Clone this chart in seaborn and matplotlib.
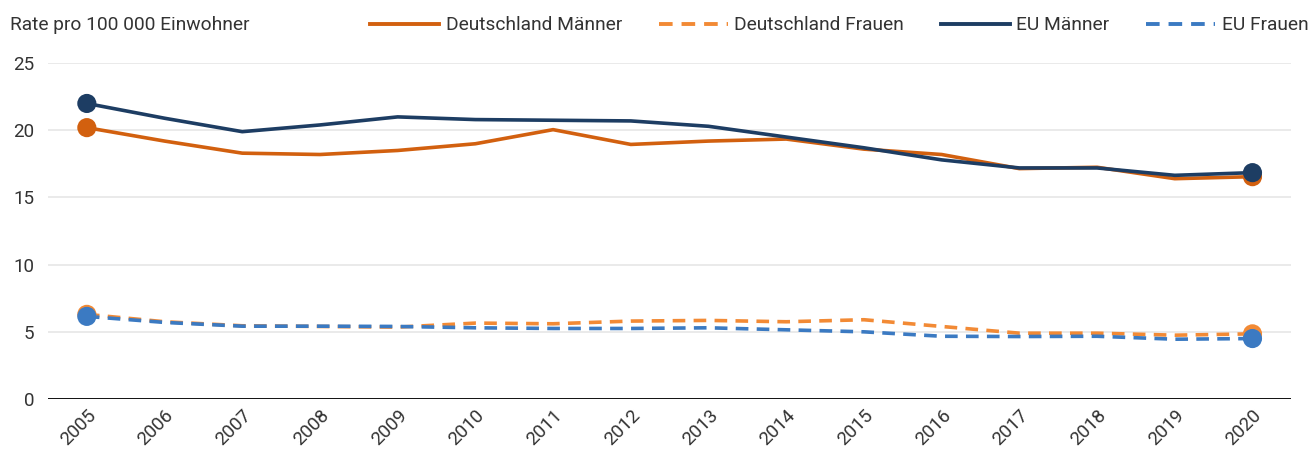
import pandas as pd
import seaborn as sns
import matplotlib.pyplot as plt
from matplotlib.lines import Line2D

years = [str(y) for y in range(2005, 2021)]

de_maenner = [20.2, 19.2, 18.3, 18.2, 18.5, 19.0, 20.05, 18.95, 19.2, 19.35, 18.6, 18.2, 17.15, 17.25, 16.4, 16.55]
de_frauen = [6.3, 5.75, 5.45, 5.4, 5.35, 5.65, 5.6, 5.8, 5.85, 5.75, 5.9, 5.4, 4.9, 4.9, 4.75, 4.85]
eu_maenner = [22.0, 20.9, 19.9, 20.4, 21.0, 20.8, 20.75, 20.7, 20.3, 19.5, 18.7, 17.8, 17.2, 17.2, 16.65, 16.85]
eu_frauen = [6.15, 5.7, 5.42, 5.42, 5.4, 5.3, 5.25, 5.25, 5.3, 5.15, 5.0, 4.67, 4.65, 4.67, 4.45, 4.5]

series_names = ["Deutschland Männer", "Deutschland Frauen", "EU Männer", "EU Frauen"]
colors = {"Deutschland Männer": "#D2600F", "Deutschland Frauen": "#F28A35",
          "EU Männer": "#1D3D63", "EU Frauen": "#3B7AC2"}
dash_map = {"Deutschland Männer": "", "Deutschland Frauen": (3.5, 2.3),
            "EU Männer": "", "EU Frauen": (3.5, 2.3)}

frames = []
for name, vals in zip(series_names, [de_maenner, de_frauen, eu_maenner, eu_frauen]):
    frames.append(pd.DataFrame({"Jahr": years, "Rate": vals, "Serie": name}))
df = pd.concat(frames, ignore_index=True)

plt.rcParams['font.family'] = ['Roboto', 'DejaVu Sans']
fig = plt.figure(figsize=(13.11, 4.61), dpi=100)
ax = fig.add_axes([0.0366, 0.1345, 0.9484, 0.7285])

# Linien
sns.lineplot(data=df, x="Jahr", y="Rate", hue="Serie", style="Serie",
             palette=colors, dashes=dash_map, linewidth=2.6, ax=ax, legend=False)

# Punkte am Anfang und Ende
ends = df[df["Jahr"].isin([years[0], years[-1]])]
sns.scatterplot(data=ends, x="Jahr", y="Rate", hue="Serie", palette=colors,
                s=190, linewidth=0, ax=ax, legend=False, zorder=5)

ax.set_xlim(-0.5, len(years) - 0.5)
ax.set_ylim(0, 25)
ax.set_yticks([0, 5, 10, 15, 20, 25])
ax.grid(axis="y", color="#e6e6e6", linewidth=1.2)
ax.set_axisbelow(True)
for s in ["top", "right", "left", "bottom"]:
    ax.spines[s].set_visible(False)
ax.axhline(0, color="black", linewidth=1.3, zorder=3)
ax.set_xlabel("")
ax.set_ylabel("")
ax.tick_params(axis="both", length=0, labelsize=13.5, colors="#333333")
ax.tick_params(axis="y", pad=10)
ax.tick_params(axis="x", pad=5)
plt.setp(ax.get_xticklabels(), rotation=45, ha="right", rotation_mode="anchor")

fig.text(0.008, 0.945, "Rate pro 100 000 Einwohner", fontsize=13.8, color="#333333", va="center")

handles = [Line2D([0], [0], color=colors[n], linewidth=2.8,
                  linestyle="-" if dash_map[n] == "" else (0, dash_map[n]))
           for n in series_names]
fig.legend(handles, series_names, loc="center right", bbox_to_anchor=(1.011, 0.945),
           ncol=4, frameon=False, fontsize=13.8, handlelength=3.6, handletextpad=0.35,
           columnspacing=1.9, labelcolor="#333333")

fig.savefig("out.png", dpi=100)
